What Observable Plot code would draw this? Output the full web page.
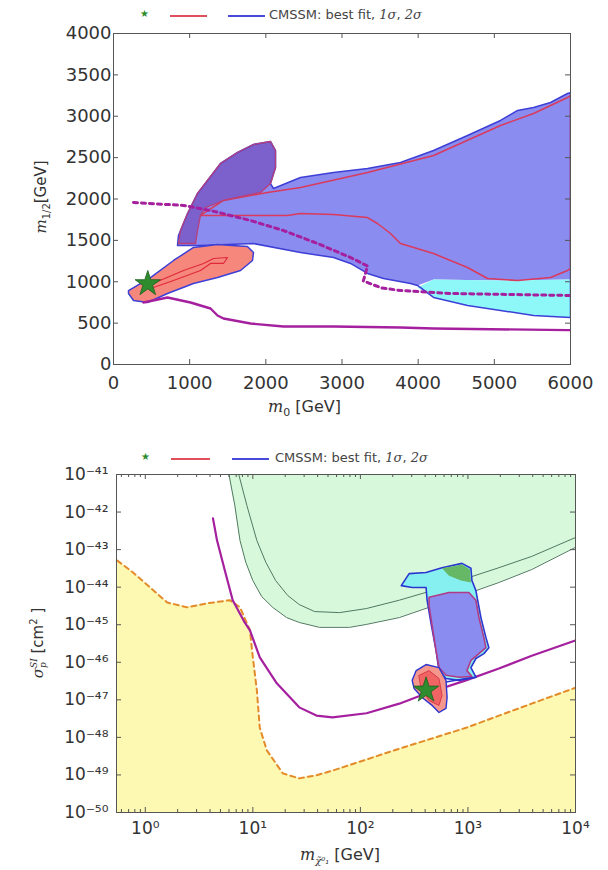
<!DOCTYPE html>
<html><head><meta charset="utf-8">
<script src="https://cdn.jsdelivr.net/npm/d3@7"></script>
<script src="https://cdn.jsdelivr.net/npm/@observablehq/plot@0.6"></script>
<style>
body{margin:0;width:608px;height:870px;position:relative;background:#fff;overflow:hidden;font-family:"DejaVu Sans",sans-serif;color:#333}
.abs{position:absolute;white-space:nowrap}
.ser{font-family:"DejaVu Serif",serif;font-style:italic}
.lg{font-size:13px;color:#444}
</style></head><body>
<div id="topChart" class="abs" style="left:0;top:0"></div>
<div id="botChart" class="abs" style="left:0;top:440px"></div>

<!-- top legend -->
<div class="abs" style="left:140px;top:8px;color:#2e8b2e;font-size:10px">★</div>
<div class="abs" style="left:170px;top:15px;width:37px;border-top:2px solid #e0505a"></div>
<div class="abs" style="left:228px;top:15px;width:37px;border-top:2px solid #4a4ad8"></div>
<div class="abs lg" style="left:269px;top:7px">CMSSM: best fit, <span class="ser">1σ</span>, <span class="ser">2σ</span></div>
<!-- top axis titles -->
<div class="abs" style="left:268px;top:397px;font-size:16px"><span class="ser">m</span><sub style="font-size:11px">0</sub> [GeV]</div>
<div class="abs" style="left:42px;top:197px;transform:translate(-50%,-50%) rotate(-90deg);font-size:15px"><span class="ser">m</span><sub style="font-size:10px">1/2</sub>[GeV]</div>

<!-- bottom legend -->
<div class="abs" style="left:141px;top:451px;color:#2e8b2e;font-size:10px">★</div>
<div class="abs" style="left:171px;top:458px;width:39px;border-top:2px solid #e0505a"></div>
<div class="abs" style="left:232px;top:458px;width:37px;border-top:2px solid #4a4ad8"></div>
<div class="abs lg" style="left:275px;top:450px">CMSSM: best fit, <span class="ser">1σ</span>, <span class="ser">2σ</span></div>
<!-- bottom axis titles -->
<div class="abs" style="left:300px;top:845px;font-size:16px"><span class="ser">m</span><sub style="font-size:10px" class="ser">χ̃⁰₁</sub> [GeV]</div>
<div class="abs" style="left:38px;top:643px;transform:translate(-50%,-50%) rotate(-90deg);font-size:15px"><span class="ser">σ</span><span style="display:inline-block;vertical-align:middle;line-height:9px;font-size:9px" class="ser">SI<br>p</span> [cm<sup style="font-size:10px">2</sup> ]</div>

<script>
// ---------- top panel: (m0, m1/2) plane, GeV ----------
const topXTicks = [0, 1000, 2000, 3000, 4000, 5000, 6000];
const topYTicks = [0, 500, 1000, 1500, 2000, 2500, 3000, 3500, 4000];

// 2σ band (light blue fill)
const sigma2Band = [[840,1438],[853,1559],[880,1619],[972,1825],[1103,2067],[1234,2224],[1405,2429],[1628,2562],[1838,2659],[2061,2695],[2127,2586],[2127,2381],[2061,2187],[2101,2127],[2455,2260],[2889,2320],[3335,2369],[3768,2441],[4202,2586],[4648,2767],[5081,2949],[5305,3070],[5515,3106],[5738,3166],[5961,3275],[6000,3287],[6000,1027],[5081,1015],[4202,1027],[3992,955],[3900,979],[3545,1039],[3335,1100],[3112,1221],[2889,1293],[2455,1353],[1838,1462],[1142,1438]];
// 2σ tail (cyan fill)
const sigma2Tail = [[3992,931],[4202,1027],[5081,1015],[6000,1027],[6000,568],[5515,592],[5081,653],[4648,713],[4202,810]];
const sigma2TailLower = [[6000,568],[5515,592],[5081,653],[4648,713],[4202,810]];
// upper lobe (purple fill)
const lobe = [[853,1462],[880,1619],[972,1825],[1103,2067],[1234,2224],[1405,2429],[1628,2562],[1838,2659],[2061,2695],[2127,2586],[2127,2381],[2061,2187],[1930,2079],[1668,2030],[1444,1982],[1208,1897],[1142,1801],[1103,1619],[1077,1462]];
// 1σ band contour (red)
const sigma1Band = [[1444,1982],[2022,2079],[2455,2139],[3335,2320],[4202,2526],[5081,2888],[5515,3033],[5961,3227],[6000,3251],[6000,1160],[5961,1136],[5738,1051],[5305,1015],[4911,1039],[4648,1172],[4202,1341],[3768,1462],[3637,1583],[3466,1704],[3335,1776],[2889,1813],[2455,1825],[2285,1801],[1142,1801]];
// low-mass island (salmon fill)
const island = [[197,894],[486,1051],[788,1257],[1050,1414],[1366,1450],[1759,1426],[1838,1353],[1825,1257],[1668,1136],[1366,1051],[1050,979],[709,858],[446,749],[263,773],[197,858]];
const islandCore = [[394,931],[919,1136],[1182,1221],[1313,1281],[1497,1293],[1444,1221],[1274,1221],[1142,1136],[788,1015],[486,918]];
const bestFitTop = [[450, 975]];
// magenta limits
const limitSolidTop = [[394,749],[709,810],[1011,749],[1274,677],[1366,592],[1444,556],[1799,495],[2232,459],[2889,459],[3768,447],[4202,435],[5961,415],[6000,415]];
const limitDashedTop = [[263,1958],[919,1922],[1274,1861],[1799,1740],[2232,1619],[2679,1462],[3112,1293],[3335,1190],[3280,1010],[3520,925],[3768,894],[4425,858],[6000,834]];

// ---------- bottom panel: (m_chi, sigma_SI) ----------
const botXTicks = [1, 10, 100, 1000, 10000];
const botYTicks = [1e-50,1e-49,1e-48,1e-47,1e-46,1e-45,1e-44,1e-43,1e-42,1e-41];
const orangeLimit = [[0.55,5.1e-44],[0.77,2.45e-44],[1.11,9.8e-45],[1.6,3.9e-45],[2.45,2.9e-45],[3.75,3.7e-45],[6.1,4.5e-45],[7.6,2.9e-45],[9.4,7.1e-46],[10.0,1.35e-46],[10.9,1.8e-47],[11.6,1.8e-48],[13.5,4.5e-49],[19,1.1e-49],[27,8.1e-50],[39,9.8e-50],[55,1.3e-49],[230,5.0e-49],[960,1.8e-48],[3900,7.9e-48],[10000,2.1e-47]];
const greenOuter = [[6.0,1e-41],[6.8,1.5e-42],[7.6,1.74e-43],[8.6,4.6e-44],[10,1.5e-44],[12.1,5.6e-45],[15.3,2.9e-45],[20.6,1.55e-45],[27,1.15e-45],[41.7,8.5e-46],[79,8.5e-46],[114,1.02e-45],[230,1.55e-45],[464,3.1e-45],[958,6.5e-45],[1940,1.33e-44],[3920,2.95e-44],[10000,1.15e-43]];
const greenInner = [[7.4,1e-41],[8.8,1.5e-42],[10.9,1.74e-43],[13.2,4.6e-44],[16.3,1.5e-44],[21.1,6.0e-45],[27,3.45e-45],[37.5,2.24e-45],[64,2.1e-45],[114,2.7e-45],[230,4.5e-45],[464,8.1e-45],[958,1.7e-44],[1940,3.3e-44],[3920,6.6e-44],[10000,2.1e-43]];
const magentaLimit = [[4.26,6.8e-43],[4.65,1.74e-43],[5.5,2.75e-44],[6.5,4.5e-45],[8.4,1.15e-45],[9.4,7.1e-46],[11.6,1.35e-46],[16.7,2.75e-47],[27,6.3e-48],[39,3.8e-48],[55,3.4e-48],[114,4.4e-48],[230,7.9e-48],[408,1.48e-47],[958,3.3e-47],[1940,6.8e-47],[3920,1.5e-46],[10000,3.8e-46]];
const hook2s = [[240,1.1e-44],[284,2.3e-44],[408,2.45e-44],[574,3.3e-44],[880,4.3e-44],[1066,3.2e-44],[1089,1.5e-44],[1186,8.1e-45],[1320,1.55e-45],[1469,4.6e-46],[1565,2.45e-46],[1406,1.7e-46],[1186,1.26e-46],[1066,7.2e-47],[1186,4.0e-47],[826,3.3e-47],[625,3.7e-47],[538,6.0e-47],[506,2.0e-46],[454,1.07e-45],[417,4.5e-45],[408,9.8e-45],[303,9.8e-45]];
const body1s = [[435,5.4e-45],[667,7.2e-45],[1020,7.2e-45],[1186,4.5e-45],[1265,1.55e-45],[1406,4.6e-46],[1469,2.45e-46],[1265,1.7e-46],[1066,1.12e-46],[979,6.0e-47],[1089,4.2e-47],[826,4.0e-47],[625,4.5e-47],[538,7.2e-47],[506,2.0e-46],[464,9.5e-46],[435,3.2e-45]];
const greenPatch = [[574,3.2e-44],[880,4.0e-44],[1043,2.95e-44],[1066,1.33e-44],[861,1.5e-44],[667,2.0e-44]];
const lowIsland = [[303,3.3e-47],[330,6.0e-47],[408,8.7e-47],[538,7.2e-47],[625,3.3e-47],[640,1.15e-47],[625,5.9e-48],[538,4.6e-48],[464,7.1e-48],[375,1.15e-47],[316,2.0e-47]];
const lowIslandCore = [[352,4.5e-47],[435,6.0e-47],[538,3.7e-47],[574,1.3e-47],[538,7.1e-48],[435,9.5e-48],[367,2.0e-47]];
const bridge = [[625,3.0e-47],[958,3.7e-47],[1186,4.0e-47]];
const bestFitBot = [[408, 1.8e-47]];

const X = d => d[0], Y = d => d[1];
const frameC = "#555";
const W = 608, H = 430;

function poly(data, fill, stroke, sw = 1.4) {
  return Plot.line(data, {x: X, y: Y, fill, stroke: stroke || "none", strokeWidth: sw, curve: "linear-closed", clip: true});
}
function path(data, stroke, sw, dash) {
  return Plot.line(data, {x: X, y: Y, stroke, strokeWidth: sw, strokeDasharray: dash, clip: true});
}
function innerTicks(xt, yt, iw, ih, len) {
  return [
    Plot.tickX(xt, {x: d => d, insetTop: ih - len, stroke: frameC}),
    Plot.tickX(xt, {x: d => d, insetBottom: ih - len, stroke: frameC}),
    Plot.tickY(yt, {y: d => d, insetLeft: iw - len, stroke: frameC}),
    Plot.tickY(yt, {y: d => d, insetRight: iw - len, stroke: frameC})
  ];
}

// ---- top chart ----
{
  const mL = 113, mR = 38, mT = 33, mB = 66;
  const iw = W - mL - mR, ih = H - mT - mB;
  const sigma2Outline = sigma2Band.slice(0, 26).concat(sigma2TailLower, sigma2Band.slice(29));
  const chart = Plot.plot({
    width: W, height: H, marginLeft: mL, marginRight: mR, marginTop: mT, marginBottom: mB,
    x: {domain: [0, 6000]}, y: {domain: [0, 4000]},
    style: {fontFamily: "DejaVu Sans", color: "#333", background: "transparent", overflow: "visible"},
    marks: [
      poly(sigma2Band, "#8b8cf0"),
      poly(sigma2Tail, "#8ef7f7"),
      poly(lobe, "#7c61cc"),
      poly(sigma2Outline, "none", "#3d3fd6", 1.5),
      poly(sigma1Band, "none", "#d93a5c", 1.5),
      poly(lobe, "none", "#b8407a", 1.3),
      poly(island, "#f5877d", "#3d3fd6", 1.5),
      poly(islandCore, "none", "#e02a3c", 1.2),
      path(limitSolidTop, "#a5209f", 2.4),
      path(limitDashedTop, "#a5209f", 3, "4,4"),
      Plot.dot(bestFitTop, {x: X, y: Y, symbol: "star", r: 8, fill: "#2e8b2e", stroke: "#1d5e1d", strokeWidth: 0.8}),
      Plot.frame({stroke: frameC}),
      ...innerTicks(topXTicks, topYTicks, iw, ih, 5),
      Plot.axisX({ticks: topXTicks, tickSize: 0, tickPadding: 12, fontSize: 18, tickFormat: d => String(d), label: null}),
      Plot.axisY({ticks: topYTicks, tickSize: 0, tickPadding: 2, fontSize: 18, tickFormat: d => String(d), label: null})
    ]
  });
  document.getElementById("topChart").append(chart);
}

// ---- bottom chart ----
{
  const mL = 116, mR = 33, mT = 34, mB = 58;
  const iw = W - mL - mR, ih = H - mT - mB;
  const supMap = {"-": "⁻", "0": "⁰", "1": "¹", "2": "²", "3": "³", "4": "⁴", "5": "⁵", "6": "⁶", "7": "⁷", "8": "⁸", "9": "⁹"};
  const pow = d => "10" + String(Math.round(Math.log10(d))).split("").map(c => supMap[c]).join("");
  const minorX = [];
  for (const dec of [0.1, 1, 10, 100, 1000]) for (let k = 2; k <= 9; k++) { const v = k * dec; if (v > 0.54 && v < 10000) minorX.push(v); }
  const chart = Plot.plot({
    width: W, height: H, marginLeft: mL, marginRight: mR, marginTop: mT, marginBottom: mB,
    x: {type: "log", domain: [0.54, 10000]},
    y: {type: "log", domain: [1e-50, 1e-41]},
    style: {fontFamily: "DejaVu Sans", color: "#333", background: "transparent", overflow: "visible"},
    marks: [
      Plot.areaY(orangeLimit, {x: X, y1: () => 1e-50, y2: Y, fill: "#fdf9b2", clip: true}),
      Plot.areaY(greenOuter, {x: X, y1: Y, y2: () => 1e-41, fill: "#d8f8dc", clip: true}),
      path(greenOuter, "#4f7a60", 1),
      path(greenInner, "#4f7a60", 1),
      path(orangeLimit, "#e38b2a", 2, "5,4"),
      path(magentaLimit, "#a5209f", 2.2),
      poly(hook2s, "#86f0f0", "#2d35d0", 1.6),
      poly(greenPatch, "#66b866"),
      poly(body1s, "#8b8cf0", "#b03a86", 1.6),
      path(bridge, "#2d35d0", 1.6),
      poly(lowIsland, "#f5978c", "#2d35d0", 1.4),
      poly(lowIslandCore, "#f06464", "#d83a4a", 1),
      Plot.dot(bestFitBot, {x: X, y: Y, symbol: "star", r: 8, fill: "#2e8b2e", stroke: "#1d5e1d", strokeWidth: 0.8}),
      Plot.frame({stroke: frameC}),
      ...innerTicks(botXTicks, botYTicks, iw, ih, 5),
      Plot.tickX(minorX, {x: d => d, insetTop: ih - 3, stroke: frameC}),
      Plot.tickX(minorX, {x: d => d, insetBottom: ih - 3, stroke: frameC}),
      Plot.axisX({ticks: botXTicks, tickSize: 0, tickPadding: 9, fontSize: 17, tickFormat: pow, label: null}),
      Plot.axisY({ticks: botYTicks, tickSize: 0, tickPadding: 8, fontSize: 17, tickFormat: pow, label: null})
    ]
  });
  document.getElementById("botChart").append(chart);
}
</script>
</body></html>
